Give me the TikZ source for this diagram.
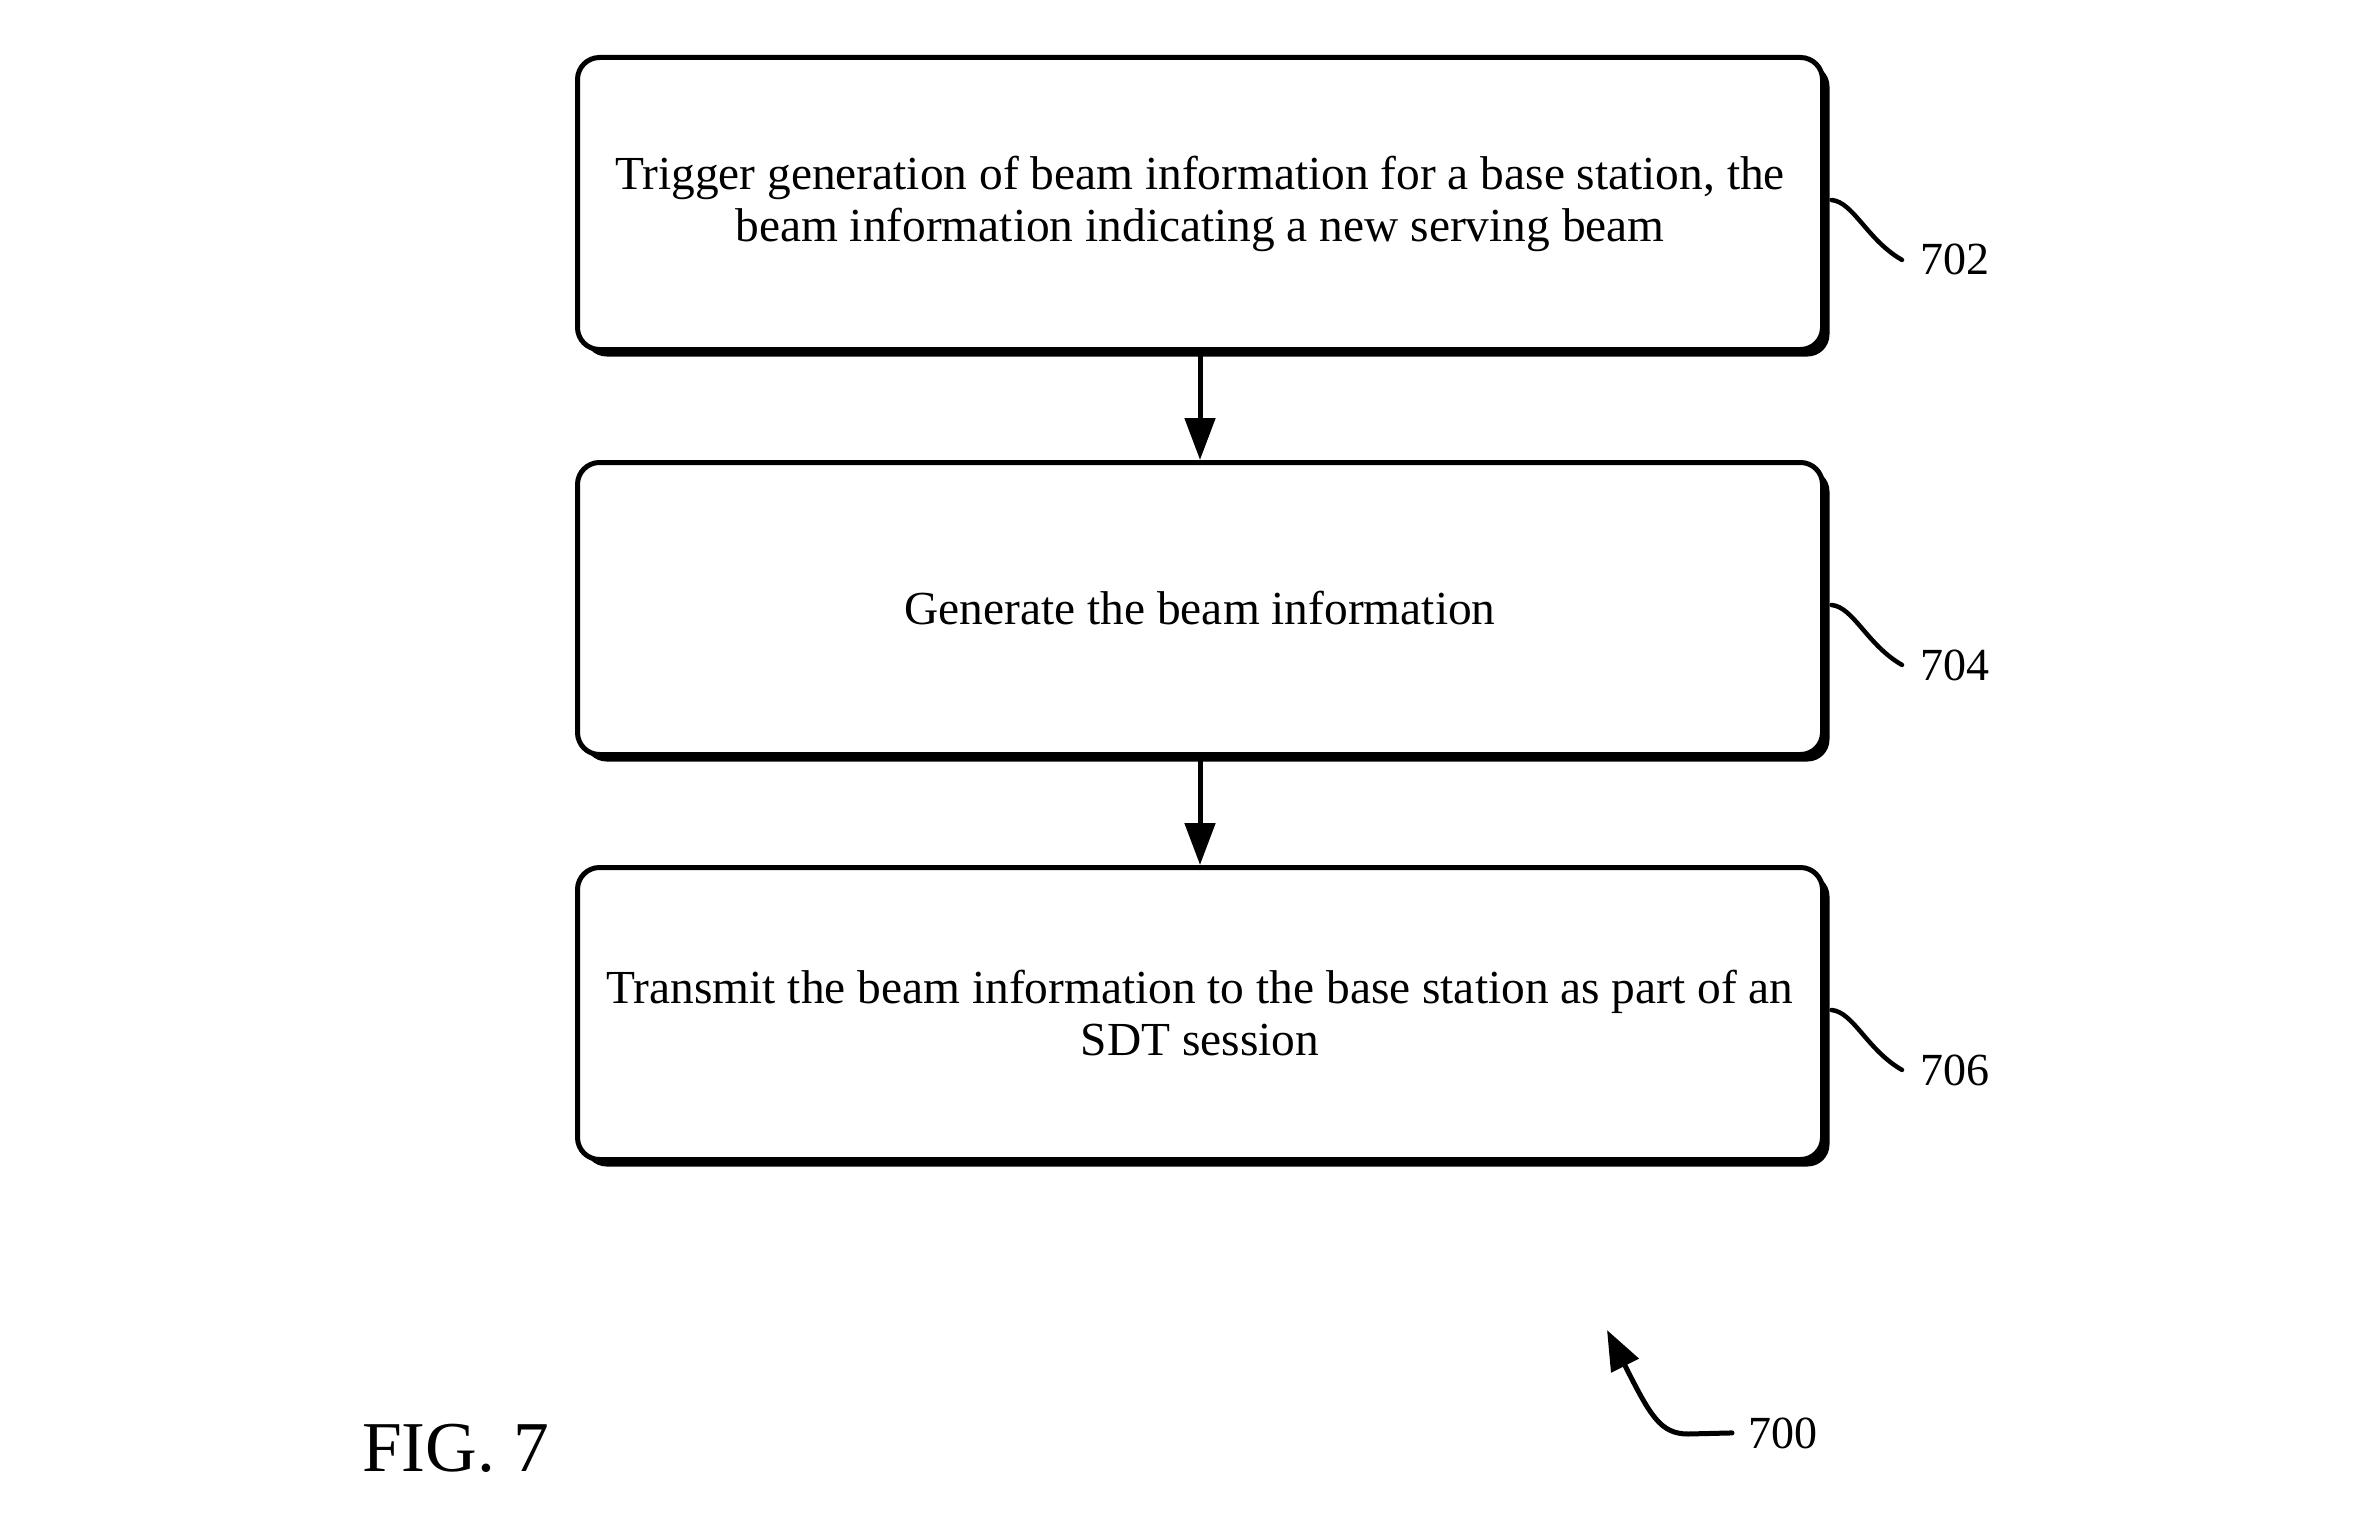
\documentclass[tikz,border=0pt]{standalone}
\usepackage{fontspec}
\setmainfont{Liberation Serif}
\usetikzlibrary{arrows.meta,shadows,calc}
\begin{document}
\begin{tikzpicture}[x=1pt,y=-1pt,
  stepbox/.style={draw, line width=5pt, fill=white, rounded corners=22pt,
    minimum width=1245pt, minimum height=292pt, inner sep=0pt, outer sep=0pt,
    align=center, font=\fontsize{47.4}{52}\selectfont,
    drop shadow={shadow xshift=7pt, shadow yshift=-7pt, fill=black, opacity=1}},
  flow/.style={line width=5pt, -{Triangle[length=42pt,width=30pt]}},
  lead/.style={line width=4.5pt, line cap=round},
  reflabel/.style={font=\fontsize{46}{52}\selectfont, inner sep=0pt, anchor=base west}]
\useasboundingbox (0,0) rectangle (2380,1530);

\node[stepbox] (b1) at (1200,203.5) {Trigger generation of beam information for a base station, the\\beam information indicating a new serving beam};
\node[stepbox] (b2) at (1200,608.5) {Generate the beam information};
\node[stepbox] (b3) at (1200,1013.5) {Transmit the beam information to the base station as part of an\\SDT session};

\draw[flow] (b1.south) -- ([yshift=2.5pt]b2.north);
\draw[flow] (b2.south) -- ([yshift=2.5pt]b3.north);

\node[reflabel] (l702) at (1920,275) {702};
\node[reflabel] (l704) at (1920,680) {704};
\node[reflabel] (l706) at (1920,1085) {706};

\draw[lead] ([xshift=9pt,yshift=3.5pt]b1.east) .. controls +(22,2) and +(-35,-20) .. ([xshift=-18pt]l702.west);
\draw[lead] ([xshift=9pt,yshift=3.5pt]b2.east) .. controls +(22,2) and +(-35,-20) .. ([xshift=-18pt]l704.west);
\draw[lead] ([xshift=9pt,yshift=3.5pt]b3.east) .. controls +(22,2) and +(-35,-20) .. ([xshift=-18pt]l706.west);

\node[reflabel] (l700) at (1748,1448) {700};
\coordinate (t700) at (1607,1330);
\draw[line width=5pt, line cap=round, -{Triangle[length=40pt,width=30pt]}]
  ([xshift=-16pt]l700.west) -- (1688,1434) .. controls (1660,1434) and (1650,1415) .. (t700);

\node[font=\fontsize{71.5}{80}\selectfont, inner sep=0pt, anchor=base west] (fig) at (362,1471) {FIG. 7};
\end{tikzpicture}
\end{document}
